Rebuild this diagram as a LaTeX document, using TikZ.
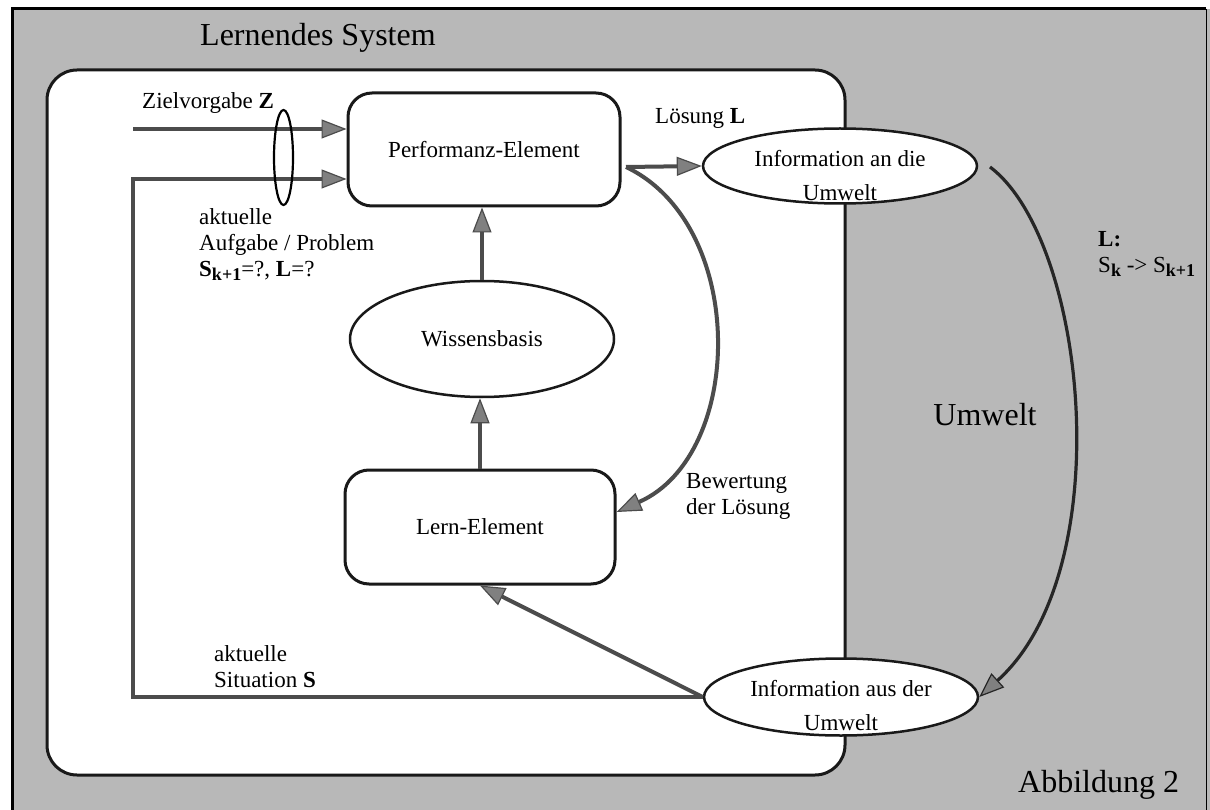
\documentclass[tikz,border=0pt]{standalone}
\usepackage{fontspec}
\setmainfont{Liberation Serif}
\usetikzlibrary{arrows.meta,shapes.geometric}

% lowered, smaller subscript in text mode
\newcommand{\lowsub}[1]{\raisebox{-0.4ex}{\fontsize{18}{18}\selectfont #1}}

\begin{document}
\begin{tikzpicture}[x=1pt,y=-1pt,
  txt/.style={font=\fontsize{23}{26}\selectfont, inner sep=0pt, align=left},
  bigtxt/.style={font=\fontsize{32}{36}\selectfont, inner sep=0pt},
  elem/.style={draw=black!90, line width=3pt, fill=white, rounded corners=24pt,
    inner sep=0pt, font=\fontsize{23}{26}\selectfont},
  oval/.style={draw=black!90, line width=2.5pt, fill=white, ellipse, inner sep=0pt,
    font=\fontsize{23}{26}\selectfont},
  flow/.style={draw=black!70, line width=4pt,
    -{Triangle[length=25pt,width=19pt,line width=1.2pt,fill=black!50]}},
  umw/.style={draw=black!85, line width=3.2pt,
    -{Triangle[length=25pt,width=19pt,line width=1.2pt,fill=black!50]}},
  sysbox/.style={draw=black!90, line width=3pt, fill=white, rounded corners=30pt},
]
% page area and halftone-grey environment
\useasboundingbox (0,0) rectangle (1210,810);
\fill[black!28] (12,9) rectangle (1210,810);
\draw[line width=3pt] (12,812) -- (12,9) -- (1206,9);
\draw[line width=1pt] (1206,9) -- (1206,812);

\node[bigtxt, anchor=west] (title) at (200,38) {Lernendes System};

% the learning system
\draw[sysbox] (47,70) rectangle (845,775);

% elements
\node[elem, minimum width=272pt, minimum height=113pt] (perf) at (484,149.5) {Performanz-Element};
\node[oval, minimum width=264pt, minimum height=116pt] (wiss) at (482,339) {Wissensbasis};
\node[elem, minimum width=270pt, minimum height=114pt] (lern) at (480,527) {Lern-Element};

\node[oval, minimum width=274pt, minimum height=75pt] (infoan) at (840,166) {};
\node[txt, align=center, font=\fontsize{23}{34}\selectfont] (infoantxt) at (840,176) {Information an die\\Umwelt};
\node[oval, minimum width=274pt, minimum height=77pt] (infoaus) at (841,697) {};
\node[txt, align=center, font=\fontsize{23}{34}\selectfont] (infoaustxt) at (841,706) {Information aus der\\Umwelt};

% connector end points
\coordinate (zstart) at (133,129);
\coordinate (fbtop) at (133,179);
\coordinate (pout) at (626,167);
\coordinate (ustart) at (990,167);

% inputs of the performance element
\draw[flow] (zstart) -- (perf.west |- zstart);
\draw[flow] (infoaus.west) -| (fbtop) -- (perf.west |- fbtop);
\node[draw=black, line width=2.2pt, ellipse, minimum width=19pt, minimum height=95pt, inner sep=0pt] (bundle) at (283.5,157.5) {};

% internal flows
\draw[flow] (wiss.north) -- (wiss.north |- perf.south);
\draw[flow] (lern.north) -- (lern.north |- wiss.south);
\draw[flow] (pout) -- (infoan.west);
\draw[flow] (pout) .. controls (748,225) and (745,455) .. ([yshift=15pt]lern.east);
\draw[flow] (infoaus.west) -- (lern.south);

% environment transition
\draw[umw] (ustart) .. controls (1087,240) and (1120,570) .. (infoaus.east);

% labels
\node[txt, anchor=west] (zlabel) at (142,103) {Zielvorgabe \textbf{Z}};
\node[txt, anchor=north west] (task) at (199,208)
  {aktuelle\\Aufgabe / Problem\\\textbf{S}\lowsub{\textbf{k+1}}=?, \textbf{L}=?};
\node[txt, anchor=west] (lsg) at (655,118) {Lösung \textbf{L}};
\node[txt, anchor=north west] (bew) at (686,473) {Bewertung\\der Lösung};
\node[txt, anchor=north west] (sit) at (214,645) {aktuelle\\Situation \textbf{S}};
\node[txt, anchor=north west] (trans) at (1098,231)
  {\textbf{L:}\\S\lowsub{\textbf{k}} -{}> S\lowsub{\textbf{k+1}}};
\node[bigtxt] (umwelt) at (985,415) {Umwelt};
\node[bigtxt, anchor=west] (abb) at (1018,785) {Abbildung 2};
\end{tikzpicture}
\end{document}
